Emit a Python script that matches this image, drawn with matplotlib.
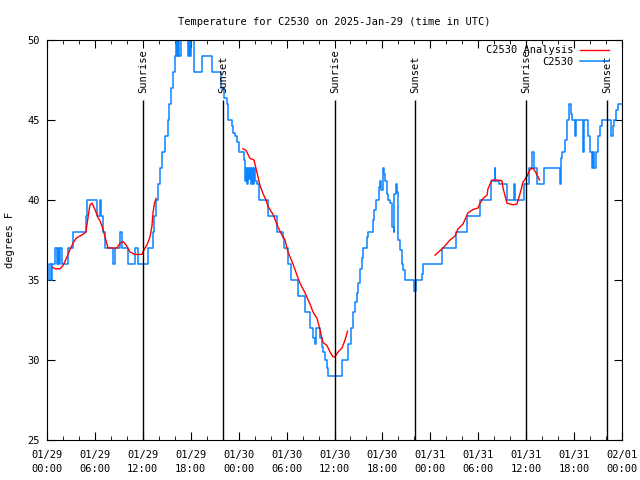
import numpy as np
import matplotlib
matplotlib.use("Agg")
from matplotlib import pyplot as plt
import matplotlib.dates as mdates

# hours after 2025-01-29 00:00 UTC
obs_hours = [0.0, 0.3, 0.45, 0.6, 1.0, 1.25, 1.4, 1.55, 1.65, 1.9, 2.65, 3.2, 4.9, 5.0,
             6.25, 6.6, 6.75, 7.0, 7.3, 8.3, 8.5, 9.1, 9.4, 10.1, 11.0, 11.4, 12.65,
             13.3, 13.45, 13.6, 13.9, 14.15, 14.45, 14.8, 15.1, 15.3, 15.55, 15.75, 16.0,
             16.1, 16.3, 16.45, 16.55, 16.8, 17.6, 17.75, 17.95, 18.05, 18.4, 19.4, 20.7,
             21.75, 22.2, 22.5, 22.65, 23.2, 23.35, 23.6, 23.85, 24.1, 24.7,
             24.8, 24.9, 25.0, 25.15, 25.25, 25.4, 25.55, 25.7, 25.8, 25.95, 26.1, 26.3,
             26.5, 27.65, 28.85, 29.55, 29.7, 30.15, 30.55, 31.4, 32.3, 32.95, 33.3, 33.5,
             33.65, 34.2, 34.4, 34.55, 34.8, 35.0, 35.2, 36.9, 37.7, 38.1, 38.3, 38.55,
             38.8, 38.95, 39.2, 39.45, 39.6, 40.05, 40.2, 40.8, 40.95, 41.2, 41.55, 41.7,
             41.8, 42.05, 42.2, 42.3, 42.55, 42.7, 42.95, 43.2, 43.4, 43.5, 43.7, 43.85,
             43.95, 44.2, 44.45, 44.6, 44.8, 45.95, 46.25, 46.9, 47.05, 49.5, 51.2, 52.6,
             54.2, 55.6, 56.05, 56.15, 56.6, 57.6, 58.5, 58.6, 59.7, 60.4, 60.75, 60.95,
             61.3, 62.2, 64.2, 64.3, 64.5, 64.85, 65.1, 65.35, 65.6, 65.8, 66.1, 66.2,
             67.1, 67.2, 67.7, 67.95, 68.2, 68.35, 68.5, 68.7, 69.0, 69.25, 69.5, 70.6,
             70.85, 71.0, 71.25, 71.5, 72.0]
obs_temps = [35, 36, 35, 36, 37, 36, 37, 36, 37, 36, 37, 38, 39, 40,
             39, 40, 39, 38, 37, 36, 37, 38, 37, 36, 37, 36, 37,
             38, 39, 40, 41, 42, 43, 44, 45, 46, 47, 48, 49,
             50, 49, 50, 49, 50, 49, 50, 49, 50, 48, 49, 48,
             47, 46.4, 46, 45, 44.6, 44.2, 44, 43.6, 43, 42.5,
             41.2, 42, 41, 42, 41.3, 42, 41, 42, 41, 42, 41.2, 41,
             40, 39, 38, 37.6, 37, 36, 35, 34, 33, 32, 31.4, 31,
             32, 31.4, 30.8, 30.5, 30, 29.5, 29, 30, 31, 32, 33, 33.6,
             34.2, 34.8, 35.7, 36.4, 37, 37.7, 38, 38.75, 39.4, 40, 40.8, 41.2,
             40.6, 42, 41.6, 41.2, 40.4, 40, 39.8, 38.3, 38, 40.4, 41, 40.5,
             37.5, 36.9, 36, 35.6, 35, 34.3, 35, 35.4, 36, 37, 38, 39,
             40, 41.2, 42, 41.2, 41, 40, 41, 40, 41, 42, 43, 42,
             41, 42, 41, 42.6, 43, 43.75, 45, 46, 45.4, 45, 44, 45,
             43, 45, 44, 43, 42, 43, 42, 43, 44, 44.6, 45, 44,
             44.6, 45, 45.6, 46, 46]

# analysis line, None marks a gap
ana_hours = [0.71, 1.0, 1.63, 2.0, 2.47, 2.88, 3.26, 3.63, 4.13, 4.63, 4.88, 5.13, 5.38,
             5.63, 6.01, 6.39, 6.64, 7.0, 7.26, 7.64, 8.77, 9.14, 9.52, 9.89, 10.39,
             11.02, 11.9, 12.15, 12.52, 12.9, 13.15, 13.27, 13.46, 13.65,
             None,
             24.54, 24.92, 25.42, 25.92, 26.3, 26.67, 27.05, 27.42, 27.67, 28.3, 28.93,
             29.43, 29.8, 30.18, 30.8, 31.3, 31.68, 32.31, 32.93, 33.31, 33.81, 34.18,
             34.56, 35.06, 35.44, 35.81, 36.06, 36.44, 36.94, 37.32, 37.63,
             None,
             48.59, 49.59, 50.46, 51.09, 51.47, 52.09, 52.72, 53.34, 53.97, 54.22, 54.6,
             55.1, 55.22, 55.72, 56.35, 56.97, 57.1, 57.6, 58.35, 58.85, 59.23, 59.6,
             60.11, 60.48, 60.86, 61.23, 61.67]
ana_temps = [35.8, 35.7, 35.7, 35.9, 36.4, 36.9, 37.3, 37.6, 37.75, 37.9, 38.0, 38.9, 39.7,
             39.8, 39.4, 38.9, 38.7, 38.2, 37.7, 37.0, 37.0, 37.3, 37.4, 37.2, 36.75,
             36.6, 36.6, 36.9, 37.2, 37.7, 38.4, 39.2, 39.8, 40.1,
             None,
             43.2, 43.1, 42.6, 42.5, 41.7, 40.9, 40.4, 40.0, 39.6, 39.1, 38.3,
             37.8, 37.5, 36.75, 36.0, 35.3, 34.8, 34.2, 33.5, 33.0, 32.6, 31.9,
             31.1, 30.9, 30.5, 30.2, 30.2, 30.5, 30.75, 31.25, 31.8,
             None,
             36.55, 37.0, 37.5, 37.75, 38.2, 38.5, 39.2, 39.4, 39.5, 39.8, 40.1,
             40.3, 40.7, 41.25, 41.25, 41.2, 40.75, 39.8, 39.7, 39.75, 40.4, 41.1,
             41.5, 41.9, 42.0, 41.7, 41.25]

sun_hours = [12.05, 22.07, 36.05, 46.09, 60.03, 70.1]
sun_labels = ["Sunrise", "Sunset", "Sunrise", "Sunset", "Sunrise", "Sunset"]

base = np.datetime64("2025-01-29T00:00")


def to_num(hours):
    # hours -> matplotlib date numbers (nan stays nan)
    h = np.array([np.nan if v is None else v for v in hours], dtype=float)
    return mdates.date2num(base) + h / 24.0


obs_t = to_num(obs_hours)
ana_t = to_num(ana_hours)
ana_v = np.array([np.nan if v is None else v for v in ana_temps], dtype=float)
sun_t = to_num(sun_hours)

plt.rcParams['font.family'] = ['DejaVu Sans Mono']
fs = 7.5

fig = plt.figure(figsize=(6.4, 4.8), dpi=100)
ax = fig.add_axes([47 / 640, 40 / 480, 575 / 640, 400 / 480])

ax.plot(ana_t, ana_v, color='#ff0000', lw=1.0, label='C2530 Analysis', zorder=3)
ax.plot(obs_t, obs_temps, color='#0a84ff', lw=1.1, drawstyle='steps-post', label='C2530', zorder=2)

for t, lab in zip(sun_t, sun_labels):
    ax.vlines(t, 25, 46.25, color='black', lw=1.0, zorder=4)
    ax.text(t, 46.7, lab, rotation=90, ha='center', va='bottom', fontsize=fs)

ax.xaxis_date()
ax.set_xlim(to_num([0])[0], to_num([72])[0])
ax.set_ylim(25, 50)
ax.set_yticks(np.arange(25, 51, 5))
ax.xaxis.set_major_locator(mdates.HourLocator(byhour=[0, 6, 12, 18]))
ax.xaxis.set_minor_locator(mdates.HourLocator(byhour=range(0, 24, 2)))
ax.xaxis.set_major_formatter(mdates.DateFormatter('%m/%d\n%H:%M'))
ax.tick_params(axis='both', which='both', direction='in', top=True, right=True, labelsize=fs)
ax.tick_params(axis='x', which='major', length=6, pad=7)
ax.tick_params(axis='x', which='minor', length=3)
ax.tick_params(axis='y', which='major', length=6, pad=5)
for lbl in ax.get_xticklabels():
    lbl.set_linespacing(1.5)

ax.set_title('Temperature for C2530 on 2025-Jan-29 (time in UTC)', fontsize=fs, pad=11)
ax.set_ylabel('degrees F', fontsize=fs, labelpad=9)

leg = ax.legend(loc='upper right', frameon=False, markerfirst=False, fontsize=fs,
                handlelength=2.8, handletextpad=0.6, labelspacing=0.15,
                borderaxespad=0.3, borderpad=0.2, bbox_to_anchor=(0.987, 1.0))

fig.savefig('out.png', dpi=100)
